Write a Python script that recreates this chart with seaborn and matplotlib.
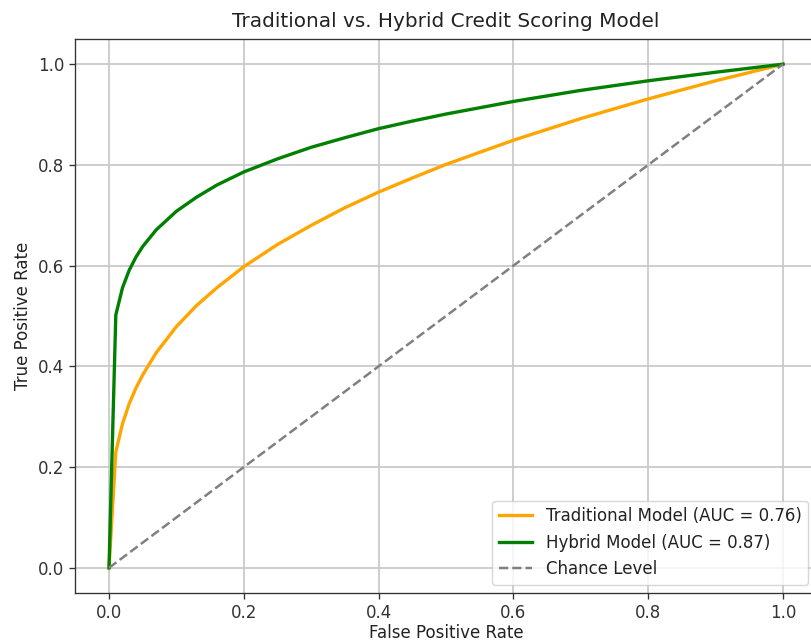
import matplotlib
matplotlib.use("Agg")
import matplotlib.pyplot as plt
import seaborn as sns
import pandas as pd

fpr = [0.0, 0.0101, 0.02, 0.03, 0.04, 0.05, 0.07, 0.1, 0.13, 0.16, 0.2, 0.25,
       0.3, 0.35, 0.4, 0.45, 0.5, 0.6, 0.7, 0.8, 0.9, 1.0]
tpr_traditional = [0.0, 0.230, 0.286, 0.326, 0.357, 0.383, 0.427, 0.479, 0.521, 0.556,
                   0.598, 0.642, 0.680, 0.715, 0.746, 0.774, 0.801, 0.849, 0.892,
                   0.931, 0.967, 1.0]
tpr_hybrid = [0.0, 0.502, 0.556, 0.591, 0.617, 0.638, 0.671, 0.708, 0.736, 0.760,
              0.786, 0.812, 0.835, 0.854, 0.872, 0.887, 0.901, 0.926, 0.948,
              0.967, 0.984, 1.0]
chance = [0.0, 1.0]

label_trad = "Traditional Model (AUC = 0.76)"
label_hyb = "Hybrid Model (AUC = 0.87)"
label_chance = "Chance Level"

df_trad = pd.DataFrame({"fpr": fpr, "tpr": tpr_traditional})
df_hyb = pd.DataFrame({"fpr": fpr, "tpr": tpr_hybrid})
df_chance = pd.DataFrame({"fpr": chance, "tpr": chance})

s = 1.2
plt.rcParams.update({
    "font.size": 10 * s,
    "axes.titlesize": 12 * s,
    "axes.labelsize": 10 * s,
    "xtick.labelsize": 10 * s,
    "ytick.labelsize": 10 * s,
    "legend.fontsize": 10 * s,
    "axes.linewidth": 0.8 * s,
    "xtick.major.size": 3.5 * s,
    "ytick.major.size": 3.5 * s,
    "xtick.major.width": 0.8 * s,
    "ytick.major.width": 0.8 * s,
    "axes.edgecolor": "#333333",
    "text.color": "#222222",
    "axes.labelcolor": "#222222",
    "xtick.color": "#333333",
    "ytick.color": "#333333",
})

fig = plt.figure(figsize=(8.11, 6.43), dpi=100)
ax = fig.add_axes([75.3 / 811, 50 / 643, 741.4 / 811, 554 / 643])

sns.lineplot(data=df_trad, x="fpr", y="tpr", color="orange", lw=2 * s, label=label_trad,
             ax=ax, sort=False, estimator=None)
sns.lineplot(data=df_hyb, x="fpr", y="tpr", color="green", lw=2 * s, label=label_hyb,
             ax=ax, sort=False, estimator=None)
sns.lineplot(data=df_chance, x="fpr", y="tpr", color="gray", lw=1.5 * s, linestyle="--",
             label=label_chance, ax=ax, sort=False, estimator=None)

ax.set_xlim(-0.05, 1.05)
ax.set_ylim(-0.05, 1.05)
ax.grid(True, color="#c8c8c8", linewidth=0.8 * s * 1.3)
ax.set_axisbelow(True)
ax.set_xlabel("False Positive Rate", labelpad=2)
ax.set_ylabel("True Positive Rate", labelpad=4 * s)
ax.set_title("Traditional vs. Hybrid Credit Scoring Model", pad=7 * s)
ax.legend(loc="lower right", borderaxespad=0.5)

fig.savefig("out.png", dpi=100)
